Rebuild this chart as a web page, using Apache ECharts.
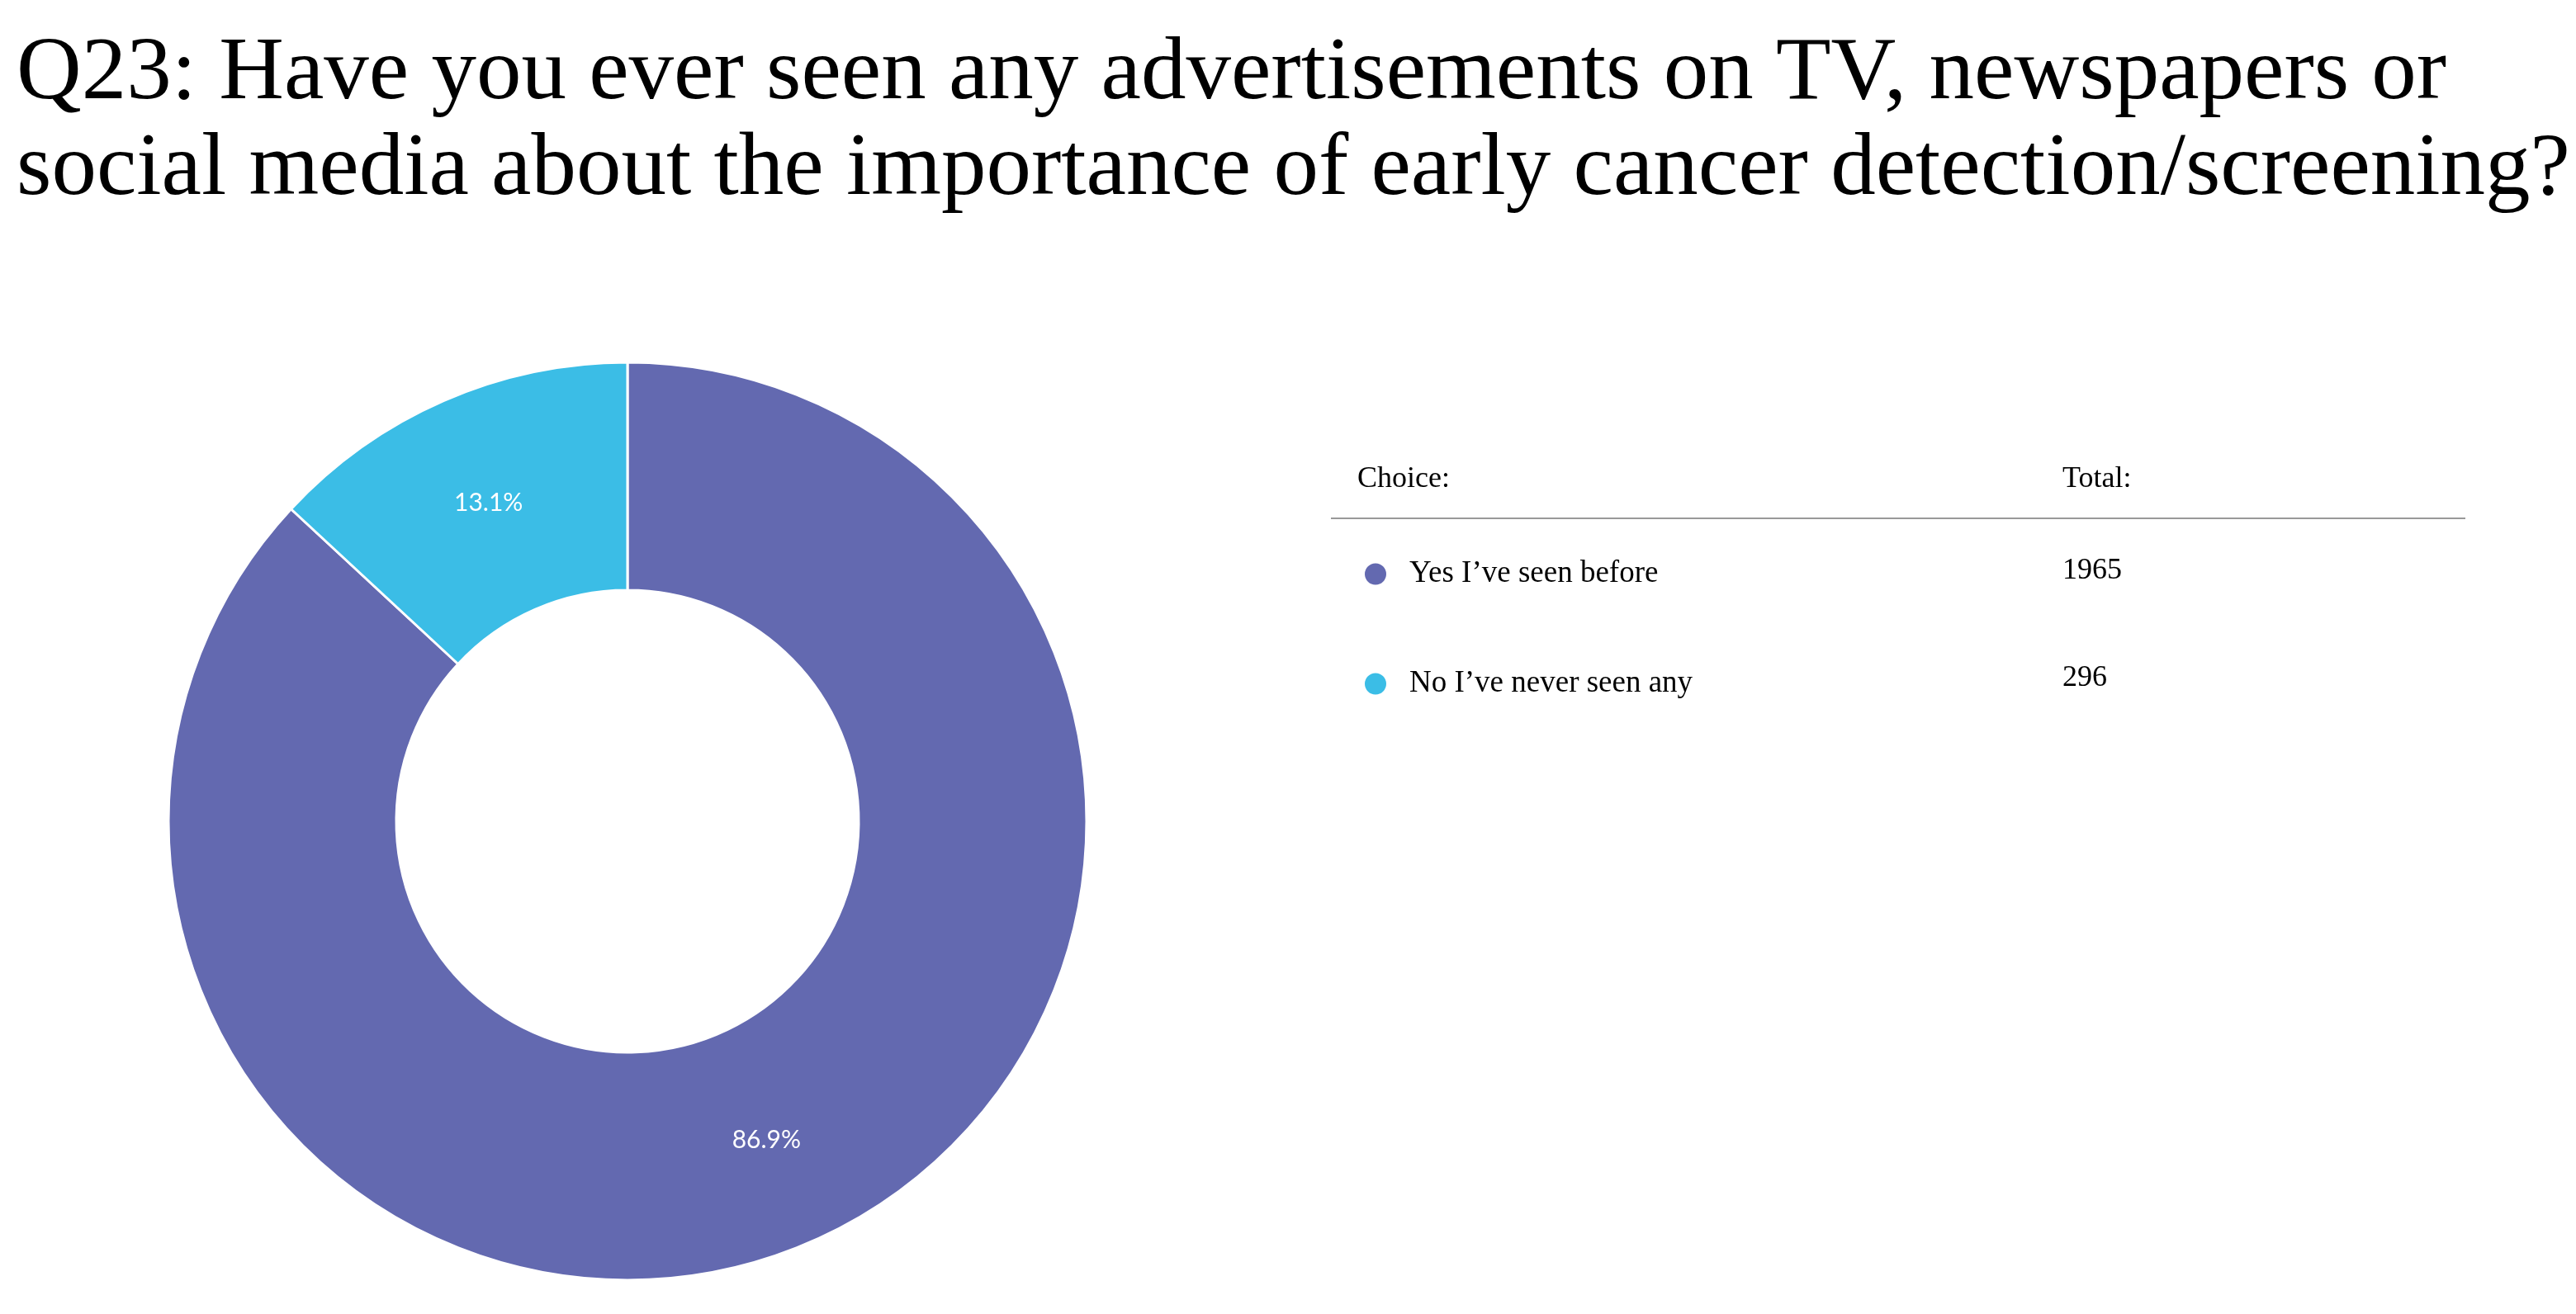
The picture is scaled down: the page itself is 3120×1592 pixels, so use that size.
<!DOCTYPE html>
<html><head><meta charset="utf-8">
<script src="https://cdn.jsdelivr.net/npm/echarts@6/dist/echarts.min.js"></script>
<style>html,body{margin:0;padding:0;background:#fff}#c{width:3120px;height:1592px}</style>
</head><body><div id="c"></div>
<script>
const titleLines = ["Q23: Have you ever seen any advertisements on TV, newspapers or","social media about the importance of early cancer detection/screening?"];
const categories = ["Yes I\u2019ve seen before","No I\u2019ve never seen any"];
const totals = [1965, 296];
const colors = ["#6369b0","#3bbde6"];
const serif = "'Liberation Serif','Times New Roman',serif";
const chart = echarts.init(document.getElementById('c'));
const graphic = [
  {type:'text',left:20,top:32,style:{text:titleLines.join('\n'),font:"109px "+serif,lineHeight:116,fill:'#000'}},
  {type:'text',left:1644,top:563,style:{text:'Choice:',font:"36px "+serif,fill:'#000'}},
  {type:'text',left:2498,top:563,style:{text:'Total:',font:"36px "+serif,fill:'#000'}},
  {type:'line',shape:{x1:1612,y1:628,x2:2986,y2:628},style:{stroke:'#999',lineWidth:2}}
];
totals.forEach((v,i)=>graphic.push({type:'text',left:2498,top:674+i*130,style:{text:String(v),font:"36px "+serif,fill:'#000'}}));
chart.setOption({
  animation:false,
  color:colors,
  graphic,
  legend:{orient:'vertical',left:1646,top:672,itemWidth:28,itemHeight:28,itemGap:96,icon:'circle',
    textStyle:{fontFamily:serif,fontSize:37,color:'#000',padding:[0,0,0,22]},data:categories},
  series:[{type:'pie',center:[760,995],radius:[280,556],startAngle:90,clockwise:true,
    itemStyle:{borderColor:'#fff',borderWidth:3},
    label:{position:'inside',color:'#fff',fontFamily:'Lato',fontSize:30,
      formatter:p=>p.percent.toFixed(1)+'%'},
    labelLine:{show:false},
    data:categories.map((n,i)=>({name:n,value:totals[i]}))}]
});
</script></body></html>
